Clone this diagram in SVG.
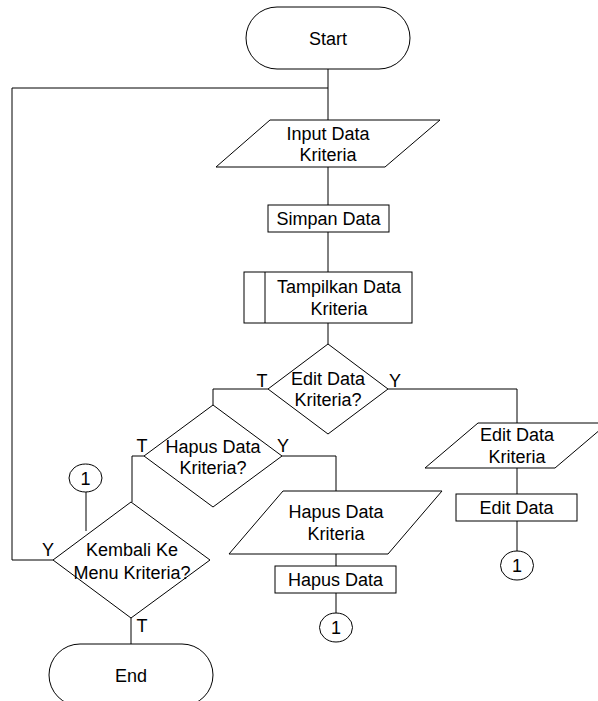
<svg xmlns="http://www.w3.org/2000/svg" width="598" height="701" viewBox="0 0 598 701">
  <style>
    .shape { fill: #ffffff; stroke: #000000; stroke-width: 1; }
    .line { fill: none; stroke: #000000; stroke-width: 1; }
    text { font-family: "Liberation Sans", Arial, sans-serif; font-size: 18px; fill: #000000; }
    .c { text-anchor: middle; }
  </style>
  <rect width="598" height="701" fill="#ffffff"/>

  <!-- connectors -->
  <g id="connectors" class="line">
    <polyline points="328,69 328,120"/>
    <polyline points="328,88 12,88 12,560 53,560"/>
    <polyline points="328,167 328,205"/>
    <polyline points="328,232 328,272"/>
    <polyline points="328,323 328,344"/>
    <polyline points="268,389 213,389 213,405"/>
    <polyline points="388,389 517,389 517,423"/>
    <polyline points="144,456 132,456 132,502"/>
    <polyline points="282,456 336,456 336,491"/>
    <polyline points="517,468 517,494"/>
    <polyline points="517,521 517,551"/>
    <polyline points="336,554 336,566"/>
    <polyline points="336,593 336,613"/>
    <polyline points="86,492 86,531"/>
    <polyline points="131,618 131,644"/>
  </g>

  <!-- branch labels -->
  <g id="labels">
    <text x="262" y="387" class="c">T</text>
    <text x="395" y="387" class="c">Y</text>
    <text x="142" y="452" class="c">T</text>
    <text x="283" y="452" class="c">Y</text>
    <text x="48" y="556" class="c">Y</text>
    <text x="142" y="632" class="c">T</text>
  </g>

  <g id="start">
    <rect class="shape" x="246" y="7" width="164" height="62" rx="31" ry="31"/>
    <text x="328" y="44.5" class="c">Start</text>
  </g>

  <g id="input-kriteria">
    <polygon class="shape" points="270,120 440,120 385,167 216,167"/>
    <text x="328" y="139.5" class="c">Input Data</text>
    <text x="328" y="160.5" class="c">Kriteria</text>
  </g>

  <g id="simpan-data">
    <rect class="shape" x="268" y="205" width="121" height="27"/>
    <text x="328.5" y="224.5" class="c">Simpan Data</text>
  </g>

  <g id="tampilkan-data">
    <rect class="shape" x="244" y="272" width="168" height="51"/>
    <line class="line" x1="265" y1="272" x2="265" y2="323"/>
    <text x="339" y="292.5" class="c">Tampilkan Data</text>
    <text x="339" y="314.5" class="c">Kriteria</text>
  </g>

  <g id="edit-decision">
    <polygon class="shape" points="328,344 388,389 328,434 268,389"/>
    <text x="328" y="385" class="c">Edit Data</text>
    <text x="328" y="406" class="c">Kriteria?</text>
  </g>

  <g id="hapus-decision">
    <polygon class="shape" points="213,405 282,456 213,507 144,456"/>
    <text x="213" y="452.5" class="c">Hapus Data</text>
    <text x="213" y="473.5" class="c">Kriteria?</text>
  </g>

  <g id="edit-input">
    <polygon class="shape" points="478,423 608,423 555,468 425,468"/>
    <text x="517" y="440.5" class="c">Edit Data</text>
    <text x="517" y="463" class="c">Kriteria</text>
  </g>

  <g id="edit-data">
    <rect class="shape" x="456" y="494" width="121" height="27"/>
    <text x="516.5" y="514" class="c">Edit Data</text>
  </g>

  <g id="edit-connector">
    <ellipse class="shape" cx="517" cy="565.5" rx="16.5" ry="14.5"/>
    <text x="517" y="572" class="c">1</text>
  </g>

  <g id="hapus-input">
    <polygon class="shape" points="283,491 442,491 388,554 229,554"/>
    <text x="336" y="517.5" class="c">Hapus Data</text>
    <text x="336" y="539.5" class="c">Kriteria</text>
  </g>

  <g id="hapus-data">
    <rect class="shape" x="275" y="566" width="121" height="27"/>
    <text x="335.5" y="586" class="c">Hapus Data</text>
  </g>

  <g id="hapus-connector">
    <ellipse class="shape" cx="336" cy="627.5" rx="16.5" ry="14.5"/>
    <text x="336" y="634" class="c">1</text>
  </g>

  <g id="return-connector">
    <ellipse class="shape" cx="85.5" cy="478" rx="16.5" ry="14"/>
    <text x="85.5" y="484.5" class="c">1</text>
  </g>

  <g id="kembali-decision">
    <polygon class="shape" points="131,502 210,560 131,618 53,560"/>
    <text x="132" y="555.5" class="c">Kembali Ke</text>
    <text x="132" y="578.5" class="c">Menu Kriteria?</text>
  </g>

  <g id="end">
    <rect class="shape" x="49" y="644" width="164" height="62" rx="31" ry="31"/>
    <text x="131" y="681.5" class="c">End</text>
  </g>
</svg>
